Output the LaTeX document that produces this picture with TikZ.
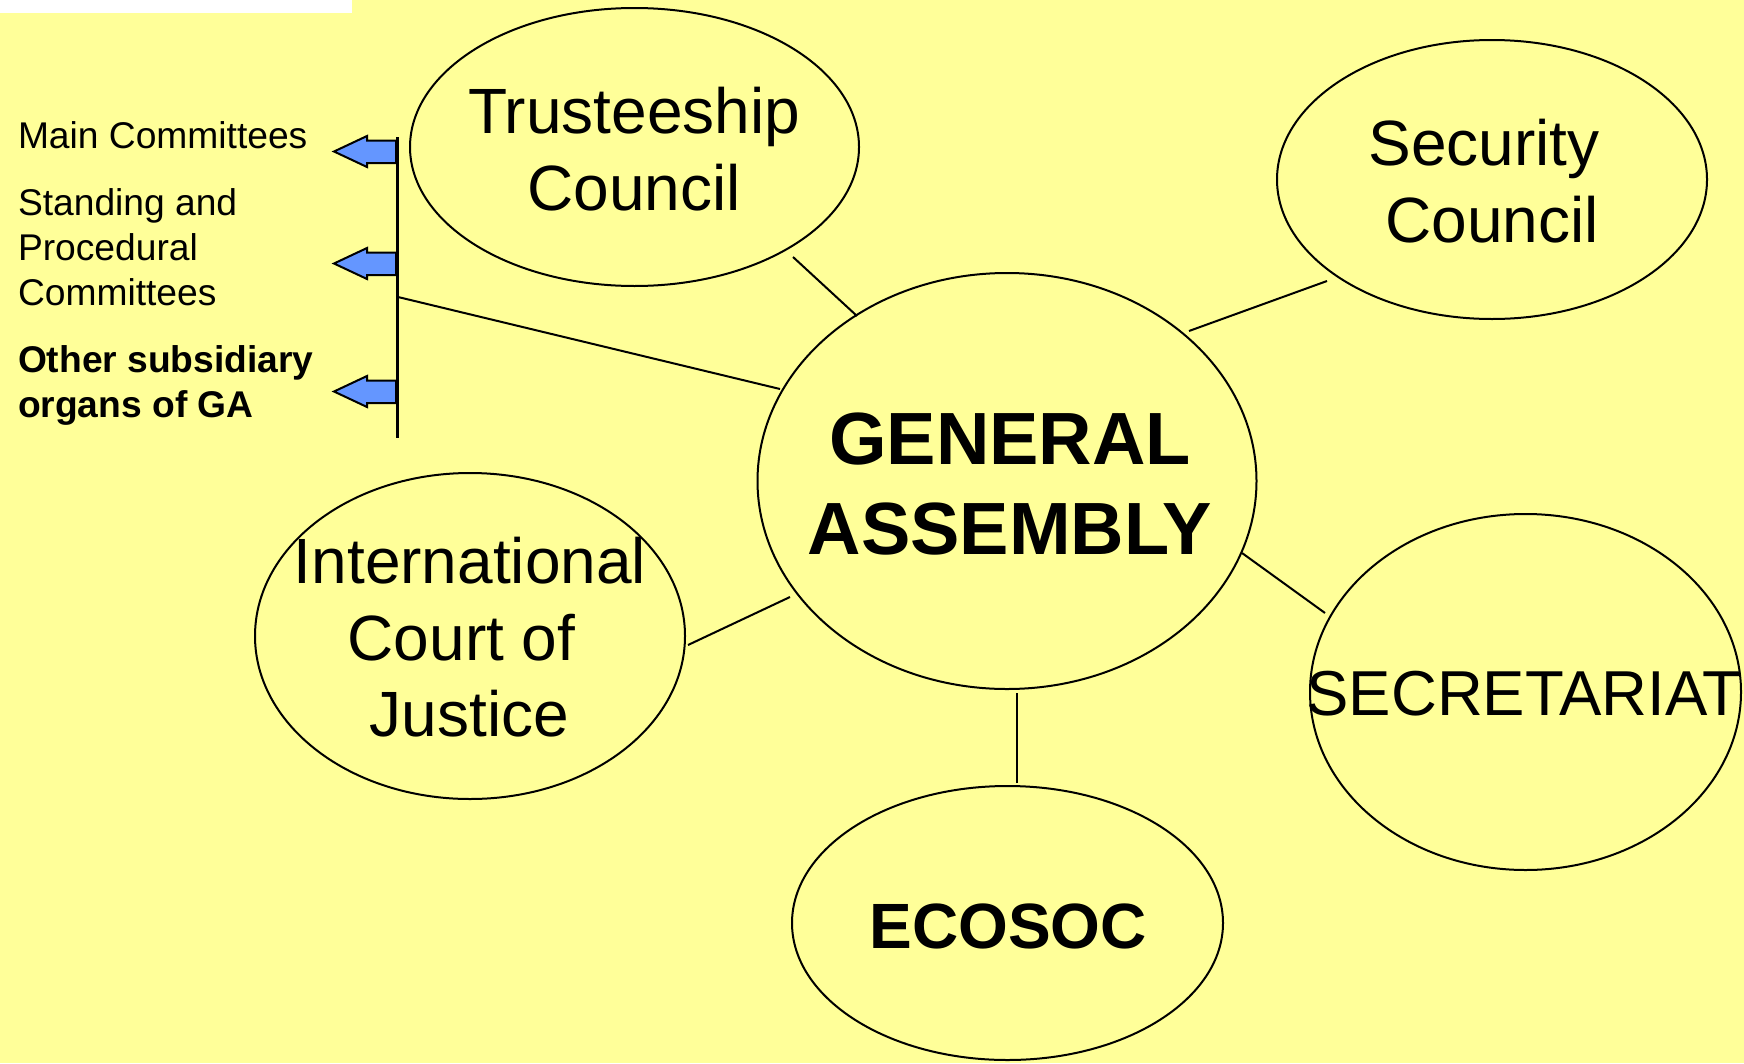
\documentclass[tikz,border=0pt]{standalone}
\usepackage{fontspec}
\setmainfont{Liberation Sans}
\usetikzlibrary{shapes.geometric}
\definecolor{bgyellow}{HTML}{FFFF99}
\definecolor{arrowblue}{RGB}{100,150,255}
\newcommand{\fsz}[1]{\fontsize{#1}{#1}\selectfont}
\tikzset{
  organ/.style={draw=black, line width=2pt, fill=bgyellow, ellipse, inner sep=0pt, outer sep=0pt},
  label/.style={anchor=base, inner sep=0pt, outer sep=0pt, text=black},
  sidelabel/.style={anchor=base west, inner sep=0pt, outer sep=0pt, text=black, font=\fsz{37.2}},
  link/.style={draw=black, line width=2pt},
  blockarrow/.style={fill=arrowblue, draw=black, line width=2pt, line join=miter}
}
\begin{document}
\begin{tikzpicture}[x=1pt, y=-1pt]
\useasboundingbox (0,0) rectangle (1744,1063);
\fill[bgyellow] (0,0) rectangle (1744,1063);
\fill[white] (0,0) rectangle (352,13);

% connector end points
\coordinate (barlinkA) at (398,297);
\coordinate (barlinkB) at (780,389);
\coordinate (tcA) at (793,257);
\coordinate (tcB) at (857,316);
\coordinate (scA) at (1327,281);
\coordinate (scB) at (1189,331);
\coordinate (secA) at (1325,613);
\coordinate (secB) at (1242,553);
\coordinate (icjA) at (688,645);
\coordinate (icjB) at (790,597);
\coordinate (ecoA) at (1017,783);
\coordinate (ecoB) at (1017,693);

% ellipses
\node[organ, minimum width=449pt, minimum height=278pt] (tc) at (634.5,147) {};
\node[organ, minimum width=430pt, minimum height=279pt] (sc) at (1492,179.5) {};
\node[organ, minimum width=499pt, minimum height=416pt] (ga) at (1007,481) {};
\node[organ, minimum width=431pt, minimum height=356pt] (sec) at (1525.5,692) {};
\node[organ, minimum width=430pt, minimum height=326pt] (icj) at (470,636) {};
\node[organ, minimum width=431pt, minimum height=274pt] (eco) at (1007.5,923) {};

\draw[link] (barlinkA) -- (barlinkB);
\draw[link] (tcA) -- (tcB);
\draw[link] (scA) -- (scB);
\draw[link] (secA) -- (secB);
\draw[link] (icjA) -- (icjB);
\draw[link] (ecoA) -- (ecoB);

% side bar and block arrows
\coordinate (bartop) at (397,137);
\coordinate (barbot) at (397,438);
\foreach \c/\nm in {151.5/a1, 263.5/a2, 391.5/a3}{
  \coordinate (\nm) at (334,\c);
  \filldraw[blockarrow] (396,\c-11) -- (367,\c-11) -- (367,\c-15.5) -- (\nm) -- (367,\c+15.5) -- (367,\c+11.5) -- (396,\c+11.5) -- cycle;
}
\draw[line width=3pt] (bartop) -- (barbot);

% texts
\node[label, font=\fsz{64}] (tc1) at (634,133) {Trusteeship};
\node[label, font=\fsz{64}] (tc2) at (634,210) {Council};
\node[label, font=\fsz{64}] (sc1) at (1484,165) {Security};
\node[label, font=\fsz{64}] (sc2) at (1492,242) {Council};
\node[label, font=\fsz{63.5}] (sec1) at (1524,715) {SECRETARIAT};
\node[label, font=\fsz{64}] (icj1) at (470,583) {International};
\node[label, font=\fsz{64}] (icj2) at (461.6,660) {Court of};
\node[label, font=\fsz{64}] (icj3) at (469.4,736) {Justice};
\node[label, font=\bfseries\fsz{74}] (ga1) at (1010,464) {GENERAL};
\node[label, font=\bfseries\fsz{74}] (ga2) at (1010,554) {ASSEMBLY};
\node[label, font=\bfseries\fsz{64}] (eco1) at (1008,948) {ECOSOC};

\node[sidelabel] (s1) at (18,148) {Main Committees};
\node[sidelabel] (s2) at (18,215) {Standing and};
\node[sidelabel] (s3) at (18,260) {Procedural};
\node[sidelabel] (s4) at (18,305) {Committees};
\node[sidelabel, font=\bfseries\fsz{37.2}] (s5) at (18,372) {Other subsidiary};
\node[sidelabel, font=\bfseries\fsz{37.2}] (s6) at (18,417) {organs of GA};
\end{tikzpicture}
\end{document}
